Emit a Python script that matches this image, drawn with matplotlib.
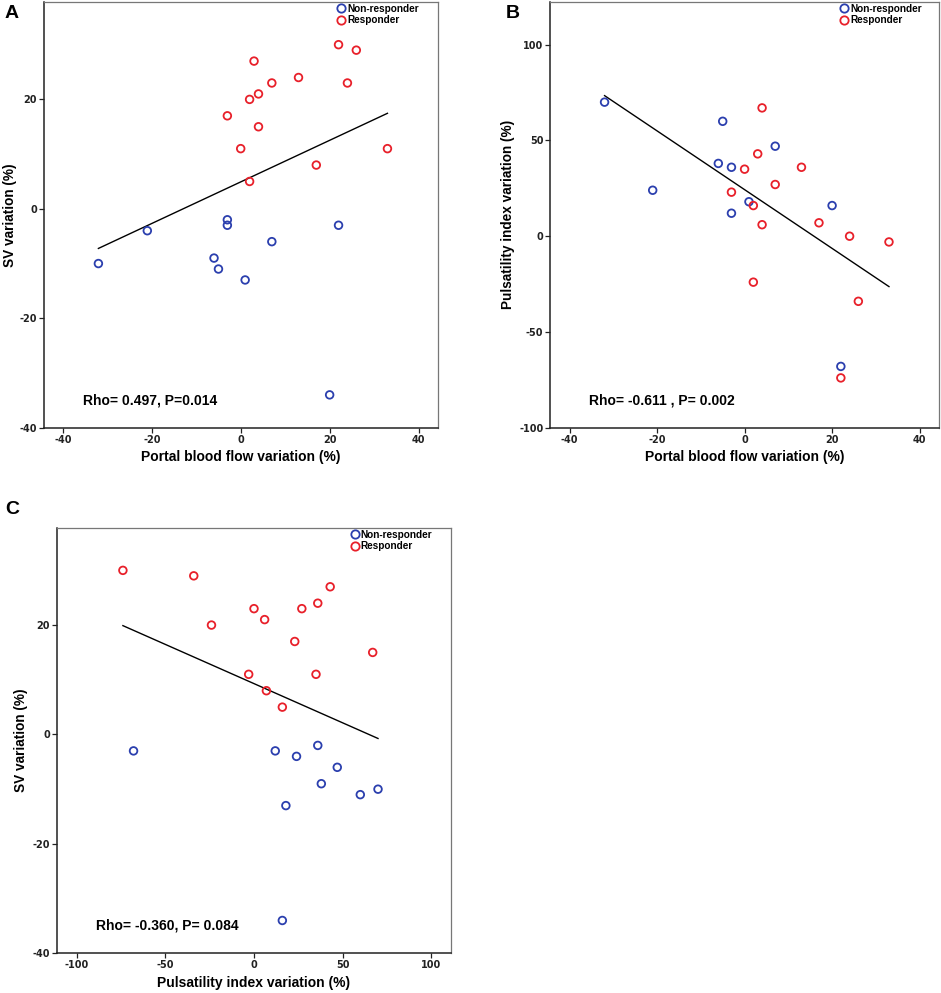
import numpy as np
import matplotlib
matplotlib.use("Agg")
import matplotlib.pyplot as plt
from matplotlib.lines import Line2D

plt.rcParams['font.family'] = ['Liberation Sans', 'DejaVu Sans']
plt.rcParams['axes.unicode_minus'] = False

# Non-responders
nr_pbf = [-32, -21, -3, -3, -6, -5, 1, 7, 22, 20]
nr_sv = [-10, -4, -2, -3, -9, -11, -13, -6, -3, -34]
nr_pi = [70, 24, 36, 12, 38, 60, 18, 47, -68, 16]
# Responders
r_pbf = [22, 26, 3, 13, 7, 24, 4, 2, -3, 4, 0, 33, 17, 2]
r_sv = [30, 29, 27, 24, 23, 23, 21, 20, 17, 15, 11, 11, 8, 5]
r_pi = [-74, -34, 43, 36, 27, 0, 6, -24, 23, 67, 35, -3, 7, 16]

labels = ["Non-responder", "Responder"]
stats = ["Rho= 0.497, P=0.014", "Rho= -0.611 , P= 0.002", "Rho= -0.360, P= 0.084"]
xlabels = ["Portal blood flow variation (%)", "Portal blood flow variation (%)",
           "Pulsatility index variation (%)"]
ylabels = ["SV variation (%)", "Pulsatility index variation (%)", "SV variation (%)"]
panel_letters = ["A", "B", "C"]

BLUE = "#2b3fae"
RED = "#e8202a"

W, H = 941, 993
fig = plt.figure(figsize=(W / 100, H / 100), dpi=100)

def rect(l, t, r, b):
    return [l / W, 1 - b / H, (r - l) / W, (b - t) / H]

axA = fig.add_axes(rect(43.7, 2, 437.7, 427.7))
axB = fig.add_axes(rect(550.3, 2, 939.3, 427.7))
axC = fig.add_axes(rect(57, 527.7, 451, 953.3))

configs = [
    (axA, nr_pbf, nr_sv, r_pbf, r_sv, (-44.3, 44.3), (-40, 37.8), [-40, -20, 0, 20, 40], [-40, -20, 0, 20]),
    (axB, nr_pbf, nr_pi, r_pbf, r_pi, (-44.4, 44.5), (-100, 122.3), [-40, -20, 0, 20, 40], [-100, -50, 0, 50, 100]),
    (axC, nr_pi, nr_sv, r_pi, r_sv, (-111.2, 111.2), (-40, 37.8), [-100, -50, 0, 50, 100], [-40, -20, 0, 20]),
]
ylabelpads = [1.5, 3, 3]

for i, (ax, nx, ny, rx, ry, xl, yl, xt, yt) in enumerate(configs):
    ax.scatter(nx, ny, s=30, facecolors='none', edgecolors=BLUE, linewidths=1.3, zorder=3)
    ax.scatter(rx, ry, s=30, facecolors='none', edgecolors=RED, linewidths=1.3, zorder=3)
    allx = np.array(nx + rx, dtype=float)
    ally = np.array(ny + ry, dtype=float)
    k, b0 = np.polyfit(allx, ally, 1)
    xs = np.array([allx.min(), allx.max()])
    ax.plot(xs, k * xs + b0, color='black', lw=1.0, zorder=2)
    ax.set_xlim(*xl)
    ax.set_ylim(*yl)
    ax.set_xticks(xt)
    ax.set_yticks(yt)
    ax.tick_params(direction='out', length=3.5, width=0.9, pad=1.5, labelsize=7,
                   top=False, right=False, colors='#222222')
    for lab in ax.get_xticklabels() + ax.get_yticklabels():
        lab.set_fontweight('bold')
        lab.set_family('DejaVu Sans')
    for side in ['left', 'bottom']:
        ax.spines[side].set_color('#222222')
        ax.spines[side].set_linewidth(1.1)
    for side in ['top', 'right']:
        ax.spines[side].set_color('#777777')
        ax.spines[side].set_linewidth(0.9)
    ax.set_xlabel(xlabels[i], fontsize=10, fontweight='bold', labelpad=4)
    ax.set_ylabel(ylabels[i], fontsize=9.8, fontweight='bold', labelpad=ylabelpads[i])
    ax.text(0.1, 0.065, stats[i], transform=ax.transAxes, fontsize=10,
            fontweight='bold', va='center', ha='left')
    handles = [Line2D([], [], ls='none', marker='o', markersize=6, markerfacecolor='none',
                      markeredgecolor=c, markeredgewidth=1.3) for c in (BLUE, RED)]
    leg = ax.legend(handles, labels, loc='upper left', bbox_to_anchor=(0.73, 1.005),
                    frameon=False, fontsize=7.2, handletextpad=0.0, handlelength=1.2,
                    labelspacing=0.15, borderaxespad=0.2, borderpad=0.2)
    for t in leg.get_texts():
        t.set_fontweight('bold')

fig.text(12 / W, 1 - 13 / H, "A", fontsize=14, fontweight='bold', ha='center', va='center')
fig.text(513 / W, 1 - 13 / H, "B", fontsize=14, fontweight='bold', ha='center', va='center')
fig.text(12 / W, 1 - 510 / H, "C", fontsize=14, fontweight='bold', ha='center', va='center')

fig.savefig("out.png", dpi=100)
